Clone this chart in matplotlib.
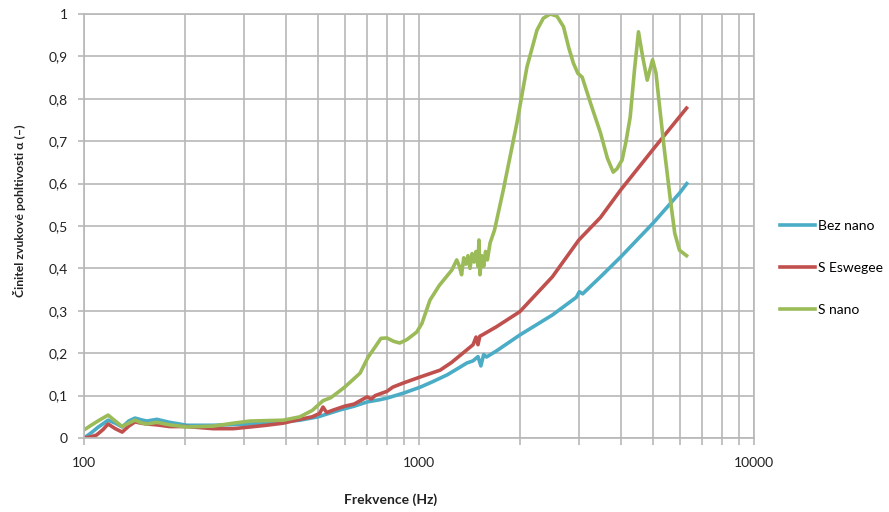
import matplotlib
matplotlib.use("Agg")
import matplotlib.pyplot as plt
from matplotlib.ticker import FixedLocator, NullFormatter

# Measured absorption coefficient vs. frequency
freq_bez = [100, 105, 110, 118, 124, 130, 136, 142, 148, 154, 165, 180, 203, 243, 313,
            393, 441, 500, 580, 640, 700, 760, 802, 900, 1009, 1100, 1214, 1300, 1390,
            1450, 1500, 1530, 1560, 1590, 1700, 2000, 2500, 2950, 3010, 3080, 3480, 4000,
            5000, 6000, 6300]
alpha_bez = [0.0, 0.012, 0.025, 0.042, 0.035, 0.026, 0.040, 0.047, 0.043, 0.040, 0.044,
             0.037, 0.030, 0.030, 0.033, 0.038, 0.042, 0.050, 0.066, 0.075, 0.085, 0.090,
             0.094, 0.106, 0.120, 0.133, 0.149, 0.163, 0.177, 0.182, 0.192, 0.170, 0.197,
             0.191, 0.205, 0.243, 0.290, 0.332, 0.345, 0.340, 0.380, 0.427, 0.507, 0.578,
             0.600]

freq_esw = [100, 105, 109, 114, 118, 124, 130, 136, 142, 148, 154, 165, 180, 203, 243,
            279, 313, 350, 393, 441, 480, 505, 517, 530, 555, 600, 640, 700, 720, 740, 802,
            835, 900, 1009, 1080, 1156, 1250, 1390, 1450, 1480, 1500, 1519, 1560, 1700,
            2000, 2500, 3000, 3480, 4000, 5000, 6290]
alpha_esw = [0.0, 0.003, 0.007, 0.020, 0.033, 0.022, 0.014, 0.028, 0.038, 0.035, 0.033,
             0.031, 0.027, 0.027, 0.022, 0.022, 0.026, 0.030, 0.035, 0.044, 0.050, 0.058,
             0.073, 0.060, 0.066, 0.075, 0.080, 0.097, 0.092, 0.100, 0.110, 0.120, 0.130,
             0.144, 0.152, 0.160, 0.178, 0.208, 0.220, 0.238, 0.220, 0.240, 0.245, 0.262,
             0.298, 0.380, 0.467, 0.520, 0.585, 0.681, 0.778]

freq_nano = [100, 105, 110, 118, 124, 130, 136, 142, 148, 154, 165, 180, 203, 243, 279,
             313, 350, 393, 441, 480, 517, 545, 569, 600, 640, 667, 704, 740, 770, 802,
             840, 876, 920, 985, 1020, 1078, 1150, 1253, 1296, 1320, 1340, 1360, 1380,
             1400, 1420, 1440, 1460, 1480, 1500, 1510, 1520, 1540, 1560, 1580, 1600, 1630,
             1680, 1785, 1960, 2100, 2250, 2350, 2464, 2580, 2700, 2800, 2890, 2980, 3070,
             3250, 3480, 3650, 3800, 3900, 4040, 4150, 4270, 4400, 4520, 4650, 4800, 4980,
             5100, 5200, 5400, 5630, 5800, 5990, 6290]
alpha_nano = [0.019, 0.030, 0.040, 0.054, 0.040, 0.027, 0.035, 0.042, 0.036, 0.033,
              0.037, 0.031, 0.026, 0.028, 0.035, 0.040, 0.041, 0.042, 0.050, 0.065, 0.088,
              0.095, 0.106, 0.120, 0.140, 0.153, 0.190, 0.215, 0.235, 0.236, 0.228, 0.224,
              0.232, 0.250, 0.270, 0.325, 0.360, 0.396, 0.420, 0.405, 0.385, 0.425, 0.410,
              0.430, 0.400, 0.435, 0.415, 0.440, 0.405, 0.467, 0.385, 0.430, 0.405, 0.440,
              0.420, 0.460, 0.490, 0.585, 0.743, 0.875, 0.962, 0.990, 1.000, 0.995, 0.970,
              0.920, 0.884, 0.860, 0.851, 0.790, 0.720, 0.660, 0.627, 0.635, 0.656, 0.700,
              0.757, 0.870, 0.958, 0.900, 0.844, 0.892, 0.860, 0.797, 0.680, 0.561, 0.483,
              0.443, 0.430]

series_labels = ["Bez nano", "S Eswegee", "S nano"]
series_colors = ["#4BACC6", "#C0504D", "#9BBB59"]

y_ticks = [0.0, 0.1, 0.2, 0.3, 0.4, 0.5, 0.6, 0.7, 0.8, 0.9, 1.0]
y_tick_labels = ["0", "0,1", "0,2", "0,3", "0,4", "0,5", "0,6", "0,7", "0,8", "0,9", "1"]
x_ticks = [100, 1000, 10000]
x_tick_labels = ["100", "1000", "10000"]
x_minor = [m * d for d in (100, 1000) for m in range(2, 10)]

x_title = "Frekvence (Hz)"
y_title = "Činitel zvukové pohltivosti α (–)"

plt.rcParams["font.family"] = ["Lato", "DejaVu Sans"]

W, H = 889, 512
fig = plt.figure(figsize=(W / 100, H / 100), dpi=100)
ax = fig.add_axes([84 / W, 1 - 438 / H, (754 - 84) / W, (438 - 14) / H])

grid_c = "#B8B8B8"
ax.set_xscale("log")
ax.set_xlim(100, 10000)
ax.set_ylim(0, 1)

ax.xaxis.set_major_locator(FixedLocator(x_ticks))
ax.xaxis.set_minor_locator(FixedLocator(x_minor))
ax.xaxis.set_minor_formatter(NullFormatter())
ax.set_xticklabels(x_tick_labels)
ax.set_yticks(y_ticks)
ax.set_yticklabels(y_tick_labels)

ax.grid(True, which="both", axis="x", color=grid_c, linewidth=1.2)
ax.grid(True, which="major", axis="y", color=grid_c, linewidth=1.2)
ax.set_axisbelow(True)

for s in ax.spines.values():
    s.set_color(grid_c)
    s.set_linewidth(1.2)

ax.tick_params(axis="both", which="both", direction="out", color=grid_c,
               width=1.2, labelsize=10, labelcolor="#222222")
ax.tick_params(axis="x", which="both", length=5, pad=8.5)
ax.tick_params(axis="y", which="major", length=4.5, pad=7)

for f, a, lab, c in zip([freq_bez, freq_esw, freq_nano],
                        [alpha_bez, alpha_esw, alpha_nano],
                        series_labels, series_colors):
    ax.plot(f, a, color=c, linewidth=2.6, label=lab, solid_joinstyle="round")

fig.legend(loc="center left", bbox_to_anchor=(780 / W, 1 - 268 / H),
           frameon=False, fontsize=10, handlelength=2.5, handletextpad=0.2,
           labelspacing=2.15, borderpad=0, borderaxespad=0)

fig.text(391 / W, 1 - 500 / H, x_title, ha="center", va="center",
         fontsize=10, fontweight="bold", color="#222222")
fig.text(20 / W, 1 - 211 / H, y_title, ha="center", va="center", rotation=90,
         fontsize=8.8, fontweight="bold", color="#222222")

fig.savefig("out.png", dpi=100)
